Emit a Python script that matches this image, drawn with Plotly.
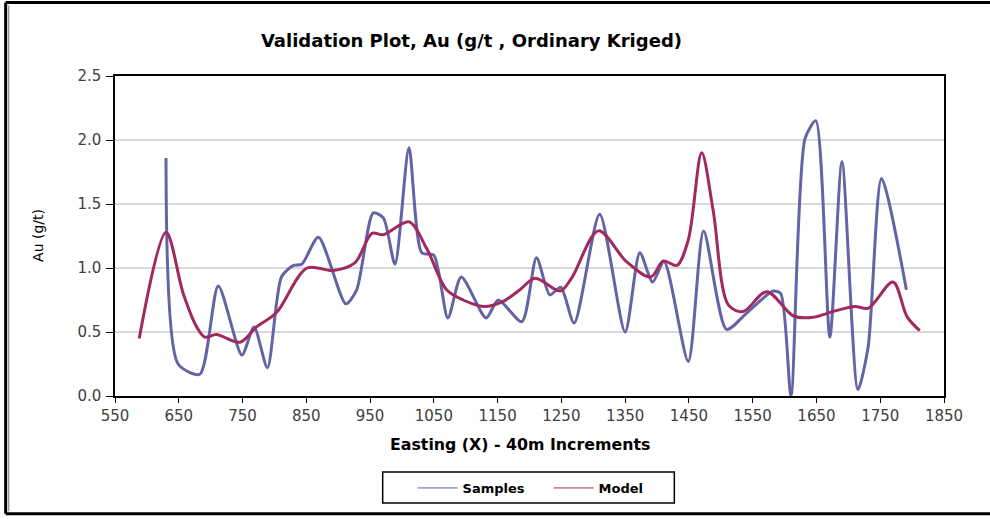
import plotly.graph_objects as go

# Samples (Au g/t) along easting
samples_x = [630, 649, 683, 712, 749, 768, 789, 811, 830, 843, 869, 912, 929, 955, 971, 989,
             1011, 1031, 1050, 1072, 1093, 1132, 1151, 1188, 1211, 1232, 1249, 1270, 1310,
             1350, 1373, 1393, 1411, 1449, 1473, 1509, 1541, 1582, 1594, 1610, 1632, 1649,
             1671, 1690, 1715, 1731, 1752, 1791]
samples_y = [1.86, 0.25, 0.17, 0.86, 0.32, 0.54, 0.22, 0.93, 1.02, 1.03, 1.24, 0.72, 0.83, 1.43, 1.39, 1.03,
             1.94, 1.12, 1.10, 0.61, 0.93, 0.61, 0.75, 0.58, 1.08, 0.79, 0.85, 0.57, 1.42,
             0.50, 1.12, 0.89, 1.05, 0.27, 1.29, 0.52, 0.65, 0.82, 0.80, 0.00, 2.01, 2.15,
             0.46, 1.83, 0.05, 0.38, 1.70, 0.83]

# Kriged model
model_x = [588, 630, 657, 678, 691, 709, 746, 772, 803, 851, 892, 926, 953, 971, 1011, 1039,
           1070, 1096, 1128, 1159, 1185, 1209, 1248, 1266, 1308, 1352, 1390, 1410, 1431, 1449,
           1470, 1488, 1512, 1535, 1572, 1614, 1645, 1676, 1710, 1731, 1770, 1792, 1812]
model_y = [0.45, 1.28, 0.80, 0.54, 0.46, 0.48, 0.42, 0.54, 0.65, 1.00, 0.98, 1.04, 1.27, 1.26, 1.36, 1.15,
           0.83, 0.75, 0.70, 0.74, 0.83, 0.92, 0.82, 0.92, 1.29, 1.05, 0.93, 1.055, 1.02, 1.22,
           1.90, 1.45, 0.71, 0.66, 0.815, 0.625, 0.615, 0.66, 0.70, 0.685, 0.89, 0.62, 0.51]

x_ticks = list(range(550, 1851, 100))
y_ticks = [0.0, 0.5, 1.0, 1.5, 2.0, 2.5]

SAMPLE_COL = "#6264A6"
MODEL_COL = "#A2295E"
FONT = "DejaVu Sans"

fig = go.Figure()

fig.add_trace(go.Scatter(x=samples_x, y=samples_y, mode="lines", name="Samples",
                         line=dict(color=SAMPLE_COL, width=3, shape="spline", smoothing=0.7),
                         showlegend=False))
fig.add_trace(go.Scatter(x=model_x, y=model_y, mode="lines", name="Model",
                         line=dict(color=MODEL_COL, width=3, shape="spline", smoothing=0.9),
                         showlegend=False))

# thin legend entries like the original
fig.add_trace(go.Scatter(x=[None], y=[None], mode="lines", name="<b>Samples</b>",
                         line=dict(color=SAMPLE_COL, width=1)))
fig.add_trace(go.Scatter(x=[None], y=[None], mode="lines", name="<b>Model</b>",
                         line=dict(color=MODEL_COL, width=1)))

fig.update_layout(
    width=990, height=519,
    margin=dict(l=115, r=46, t=76, b=123),
    paper_bgcolor="white", plot_bgcolor="white",
    font=dict(family=FONT, color="#404040"),
    title=dict(text="<b>Validation Plot, Au (g/t , Ordinary Kriged)</b>",
               x=0.43, xref="paper", xanchor="center",
               y=1 - 41 / 519, yref="container", yanchor="middle",
               font=dict(family=FONT, size=18, color="black")),
    legend=dict(orientation="h", x=0.359, xanchor="left", y=-0.2875, yanchor="middle",
                bgcolor="rgba(0,0,0,0)", borderwidth=0, itemwidth=40, entrywidth=81,
                font=dict(family=FONT, size=13, color="black")),
    showlegend=True,
)

fig.update_xaxes(range=[550, 1850], tickvals=x_ticks, ticks="outside", ticklen=5,
                 tickcolor="black", showline=True, linecolor="black", linewidth=1.5,
                 mirror=True, showgrid=False, zeroline=False,
                 tickfont=dict(size=15, color="#404040"))
fig.update_yaxes(range=[0, 2.5], tickvals=y_ticks, tickformat=".1f", ticks="outside",
                 ticklen=7, tickcolor="black", showline=True, linecolor="black",
                 linewidth=1.5, mirror=True, showgrid=True, gridcolor="#D9D9D9",
                 gridwidth=1.5, zeroline=False, ticklabelstandoff=2,
                 tickfont=dict(size=15, color="#404040"))

# axis titles
fig.add_annotation(text="<b>Easting (X) - 40m Increments</b>", xref="paper", yref="paper",
                   x=0.488, y=-0.153, showarrow=False, xanchor="center", yanchor="middle",
                   font=dict(family=FONT, size=15.8, color="black"))
fig.add_annotation(text="Au (g/t)", xref="paper", yref="paper", textangle=-90,
                   x=-0.093, y=0.503, showarrow=False, xanchor="center", yanchor="middle",
                   font=dict(family=FONT, size=14, color="black"))

# legend box
fig.add_shape(type="rect", xref="paper", yref="paper", x0=0.3229, x1=0.6747, y0=-0.3344, y1=-0.2375,
              line=dict(color="black", width=1.5))

# outer frame of the chart object
fig.add_shape(type="line", xref="paper", yref="paper", x0=-0.1319, x1=1.06, y0=1.2297, y1=1.2297,
              line=dict(color="black", width=3))
fig.add_shape(type="line", xref="paper", yref="paper", x0=-0.1319, x1=-0.1319, y0=1.2297, y1=-0.3678,
              line=dict(color="black", width=3))
fig.add_shape(type="line", xref="paper", yref="paper", x0=-0.1283, x1=-0.1283, y0=1.22, y1=-0.36,
              line=dict(color="#999999", width=1.5))
fig.add_shape(type="line", xref="paper", yref="paper", x0=-0.1319, x1=1.06, y0=-0.3678, y1=-0.3678,
              line=dict(color="black", width=3))

# page body has an 8px default margin; drop it so the figure sits at the window origin
fig.write_html("out.html", config={"displayModeBar": False},
               post_script="document.body.style.margin='0';")
